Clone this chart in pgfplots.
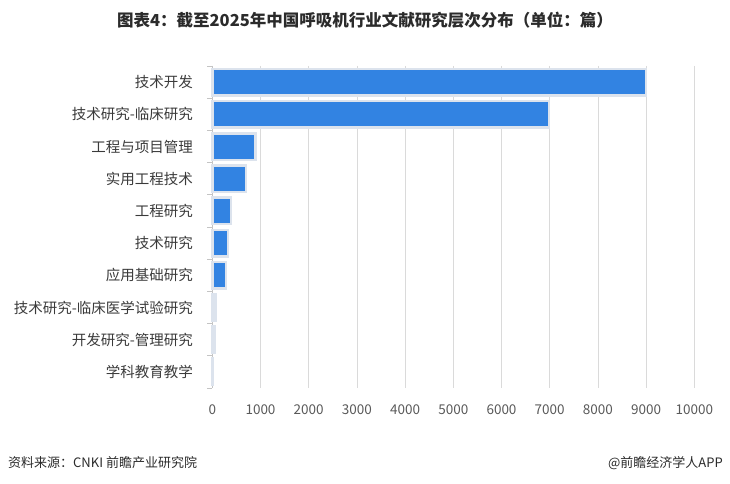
\documentclass[border=0pt]{standalone}
\usepackage{fontspec}
\setmainfont{Noto Sans CJK SC}
\usepackage{pgfplots}
\pgfplotsset{compat=1.18}
\definecolor{barblue}{HTML}{3283E2}
\definecolor{barborder}{HTML}{DCE3ED}
\definecolor{gridgrey}{HTML}{DADADA}
\definecolor{axisgrey}{HTML}{C4C4C4}
\definecolor{labelgrey}{HTML}{3A3A3A}
\definecolor{tickgrey}{HTML}{595959}
\definecolor{titlegrey}{HTML}{2B2B2B}
\begin{document}
\begin{tikzpicture}[x=1pt,y=1pt]
\path[use as bounding box] (0,0) rectangle (730,483);
\begin{axis}[
  at={(212.3pt,95pt)}, anchor=south west,
  scale only axis, width=482pt, height=322pt,
  xmin=0, xmax=10000, ymin=-0.5, ymax=9.5,
  y dir=reverse,
  xbar, bar width=26.5pt,
  axis y line*=left, axis x line*=bottom,
  x axis line style={draw=none},
  y axis line style={draw=axisgrey, line width=0.8pt},
  xtick={0,1000,...,10000},
  scaled x ticks=false,
  major x tick style={draw=none},
  xmajorgrids, grid style={draw=gridgrey, line width=0.8pt},
  ytick={0,...,9},
  yticklabels={技术开发,技术研究-临床研究,工程与项目管理,实用工程技术,工程研究,技术研究,应用基础研究,技术研究-临床医学试验研究,开发研究-管理研究,学科教育教学},
  major y tick style={draw=none},
  minor ytick={-0.5,0.5,...,9.5},
  minor tick length=5pt,
  tick align=outside,
  minor y tick style={draw=axisgrey, line width=0.8pt},
  /pgf/number format/assume math mode=true,
  /pgf/number format/1000 sep={},
  xticklabel style={font=\fontsize{13.5}{16}\selectfont, text=tickgrey, yshift=-9pt},
  yticklabel style={font=\fontsize{14.5}{17}\selectfont, text=labelgrey, inner sep=0pt, xshift=-15pt},
  clip=false,
]
\addplot[fill=barblue, draw=barborder, line width=2.5pt] coordinates {
  (9000,0) (6985,1) (900,2) (700,3) (390,4) (325,5) (285,6) (70,7) (45,8) (12,9)
};
\end{axis}
\node[font=\fontsize{16.5}{19}\selectfont\bfseries, text=titlegrey] at (365,463) {图表4：截至2025年中国呼吸机行业文献研究层次分布（单位：篇）};
\node[font=\fontsize{13}{15}\selectfont, text=titlegrey, anchor=west, inner sep=0pt] at (8,20) {资料来源：CNKI 前瞻产业研究院};
\node[font=\fontsize{13}{15}\selectfont, text=titlegrey, anchor=east, inner sep=0pt] at (723,20) {@前瞻经济学人APP};
\end{tikzpicture}
\end{document}
